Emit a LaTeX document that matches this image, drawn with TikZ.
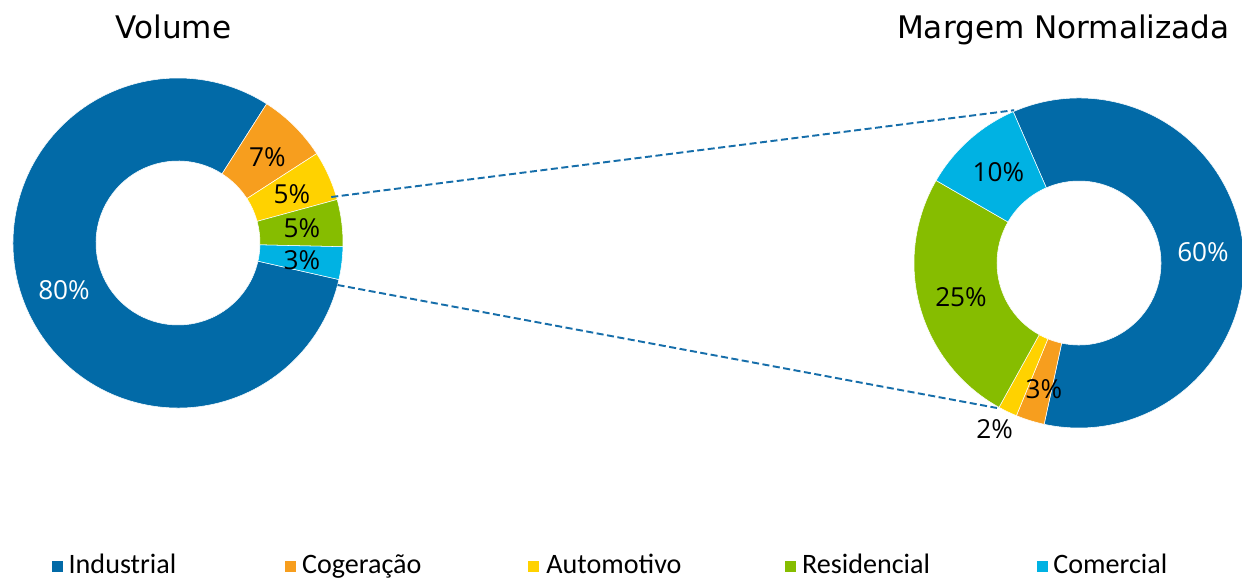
\documentclass[tikz,border=0pt]{standalone}
\usepackage{fontspec}
\setmainfont{Open Sans}
\newfontfamily\titlefont{DejaVu Sans}
\newfontfamily\legendfont{Carlito}
\usetikzlibrary{calc}

\definecolor{industrial}{RGB}{2,106,167}
\definecolor{cogeracao}{RGB}{247,158,30}
\definecolor{automotivo}{RGB}{255,210,0}
\definecolor{residencial}{RGB}{134,189,0}
\definecolor{comercial}{RGB}{0,178,227}
\definecolor{linkblue}{RGB}{22,110,170}

% one slice of a donut: centre, start angle, end angle, colour
\newcommand{\ringslice}[4]{%
  \fill[#4,draw=white,line width=0.3pt] ($(#1)+(#2:165)$) arc[start angle=#2,end angle=#3,radius=165]
    -- ($(#1)+(#3:82)$) arc[start angle=#3,end angle=#2,radius=82] -- cycle;}

\tikzset{
  pct/.style={inner sep=0pt,font=\fontsize{14.9}{16}\selectfont},
  charttitle/.style={inner sep=0pt,anchor=base,font=\titlefont\fontsize{17.7}{20}\selectfont},
  legsq/.style={inner sep=0pt,minimum size=0.22cm},
  legtext/.style={inner sep=0pt,anchor=base west,font=\legendfont\fontsize{16}{18}\selectfont},
  link/.style={linkblue,line width=1.1pt,dash pattern=on 4pt off 2pt}
}

\begin{document}
\begin{tikzpicture}[x=0.02cm,y=0.02cm]
\useasboundingbox (0,0) rectangle (1242,579);
\clip (0,0) rectangle (1242,579);

\coordinate (vol) at (178,336);
\coordinate (mar) at (1079,316);

%% Volume
\foreach \a/\b/\c in {-12.8/-302.5/industrial, 57.5/32.8/cogeracao, 32.8/15.3/automotivo,
                      15.3/-1.3/residencial, -1.3/-12.8/comercial}
  {\ringslice{vol}{\a}{\b}{\c}}

%% Margem Normalizada
\foreach \a/\b/\c in {113.5/-102.2/industrial, -102.2/-112.3/cogeracao, -112.3/-119/automotivo,
                      -119/-210/residencial, -210/-246.5/comercial}
  {\ringslice{mar}{\a}{\b}{\c}}

\node[charttitle] (tvol) at (173.5,540) {Volume};
\node[charttitle,anchor=base east] (tmar) at (1230,540) {Margem Normalizada};

\node[pct,white] (v80) at (64,289) {80\%};
\node[pct] (v7) at (267.5,422) {7\%};
\node[pct] (v5a) at (292,385.3) {5\%};
\node[pct] (v5b) at (302,350.5) {5\%};
\node[pct] (v3) at (302,319.3) {3\%};

\node[pct] (m10) at (998.3,406.5) {10\%};
\node[pct,white] (m60) at (1203,327.3) {60\%};
\node[pct] (m25) at (961,281.7) {25\%};
\node[pct] (m3) at (1043.8,190.2) {3\%};
\node[pct] (m2) at (994.7,149.8) {2\%};

%% zoom lines
\coordinate (volA) at ($(vol)+(16.7:160)$);
\coordinate (volB) at ($(vol)+(-14.75:165)$);
\coordinate (marA) at ($(mar)+(113:166)$);
\coordinate (marB) at ($(mar)+(-119.5:166.6)$);
\draw[link] (volA) -- (marA);
\draw[link] (volB) -- (marB);

%% legend
\node[legsq,fill=industrial] (sqind) at (57.2,12.5) {};
\node[legtext] (lind) at (68.3,6) {Industrial};
\node[legsq,fill=cogeracao] (sqcog) at (290.5,12.5) {};
\node[legtext] (lcog) at (301.7,6) {Cogeração};
\node[legsq,fill=automotivo] (sqaut) at (533.5,12.5) {};
\node[legtext] (laut) at (546,6) {Automotivo};
\node[legsq,fill=residencial] (sqres) at (790.5,12.5) {};
\node[legtext] (lres) at (801.7,6) {Residencial};
\node[legsq,fill=comercial] (sqcom) at (1042.2,12.5) {};
\node[legtext] (lcom) at (1053,6) {Comercial};

\end{tikzpicture}
\end{document}
